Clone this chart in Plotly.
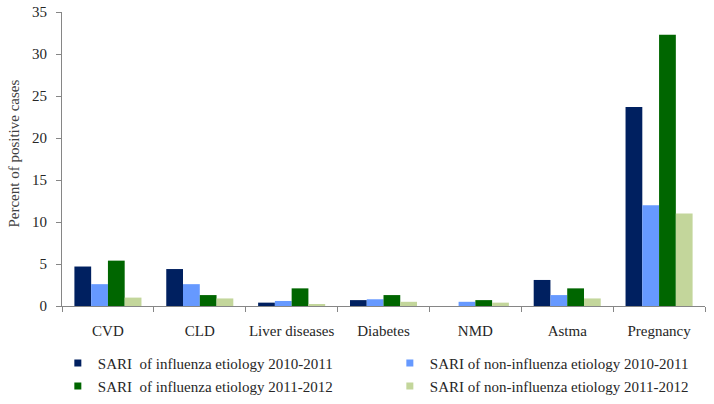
import plotly.graph_objects as go

categories = ["CVD", "CLD", "Liver diseases", "Diabetes", "NMD", "Astma", "Pregnancy"]
series_names = [
    "SARI\u00a0 of influenza etiology 2010-2011",
    "SARI of non-influenza etiology 2010-2011",
    "SARI\u00a0 of influenza etiology 2011-2012",
    "SARI of non-influenza etiology 2011-2012",
]
flu_2010 = [4.7, 4.4, 0.4, 0.7, 0.0, 3.1, 23.7]
nonflu_2010 = [2.6, 2.6, 0.6, 0.8, 0.5, 1.3, 12.0]
flu_2011 = [5.4, 1.3, 2.1, 1.3, 0.7, 2.1, 32.3]
nonflu_2011 = [1.0, 0.9, 0.2, 0.5, 0.4, 0.9, 11.0]
y_ticks = [0, 5, 10, 15, 20, 25, 30, 35]

colors = ["#002060", "#6699FF", "#006600", "#C3D69B"]
values = [flu_2010, nonflu_2010, flu_2011, nonflu_2011]

FONT = "Liberation Serif"
fig = go.Figure()
for name, vals, col in zip(series_names, values, colors):
    fig.add_trace(go.Bar(x=categories, y=vals, name=name, marker_color=col,
                         marker_line_width=0, showlegend=False))

legend_ids = ["legend", "legend2", "legend3", "legend4"]
legend_pos = [(0.081, 0.101), (0.546, 0.101), (0.081, 0.044), (0.546, 0.044)]
for name, col, lid in zip(series_names, colors, legend_ids):
    fig.add_trace(go.Scatter(x=[categories[0]], y=[None], mode="markers", name=name,
                             marker=dict(symbol="square", size=7, color=col),
                             legend=lid, showlegend=True, hoverinfo="skip"))

leg_common = dict(font=dict(family=FONT, size=15, color="#262626"),
                  xref="container", yref="container", xanchor="left", yanchor="middle",
                  bgcolor="rgba(0,0,0,0)", itemwidth=30)
layout_legends = {}
for lid, (lx, ly) in zip(legend_ids, legend_pos):
    layout_legends[lid] = dict(leg_common, x=lx, y=ly)

fig.update_layout(
    width=714, height=404,
    margin=dict(l=62, r=9, t=12, b=98, autoexpand=False),
    paper_bgcolor="white", plot_bgcolor="white",
    barmode="group", bargap=0.27, bargroupgap=0,
    font=dict(family=FONT, size=14, color="#262626"),
    xaxis=dict(type="category", categoryorder="array", categoryarray=categories,
               showline=True, linecolor="#868686", linewidth=1,
               ticks="outside", tickson="boundaries", ticklen=5, tickcolor="#868686",
               tickangle=0, automargin=False, ticklabelstandoff=11,
               tickfont=dict(family=FONT, size=15, color="#262626"), showgrid=False),
    yaxis=dict(range=[0, 35], tickvals=y_ticks, showline=True, linecolor="#868686", linewidth=1,
               ticks="outside", ticklen=5, tickcolor="#868686", showgrid=False, zeroline=False,
               automargin=False, ticklabelstandoff=6,
               tickfont=dict(family=FONT, size=15, color="#262626")),
    annotations=[dict(text="Percent of positive cases", xref="paper", yref="paper",
                      x=-0.074, y=0.52, xanchor="center", yanchor="middle", textangle=-90,
                      showarrow=False, font=dict(family=FONT, size=15, color="#404040"))],
    **layout_legends,
)

fig.write_html("out.html", config={"displayModeBar": False},
               post_script="document.body.style.margin='0px';")
